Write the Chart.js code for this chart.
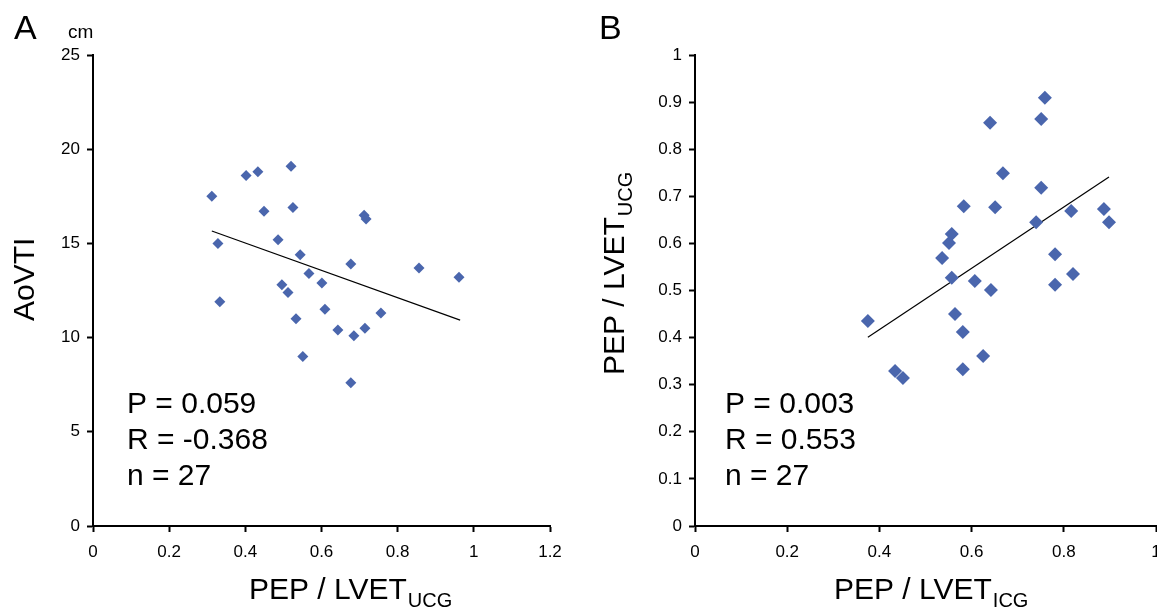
<!DOCTYPE html>
<html>
<head>
<meta charset="utf-8">
<script src="https://cdn.jsdelivr.net/npm/chart.js@4.4.1/dist/chart.umd.min.js"></script>
<style>
  html, body { margin: 0; padding: 0; background: #fff; overflow: hidden; }
  #wrap { position: relative; width: 1157px; height: 610px; overflow: hidden; }
  canvas { position: absolute; top: 0; }
  #chartA { left: 0; }
  #chartB { left: 578px; }
</style>
</head>
<body>
<div id="wrap">
  <canvas id="chartA" width="578" height="610"></canvas>
  <canvas id="chartB" width="600" height="610"></canvas>
</div>
<script>
// Panel A: PEP/LVET (UCG) vs AoVTI
const aX = [0.312, 0.328, 0.333, 0.402, 0.433, 0.520, 0.449, 0.525, 0.486, 0.544, 0.567, 0.496, 0.512, 0.601,
            0.609, 0.533, 0.551, 0.643, 0.685, 0.714, 0.677, 0.712, 0.717, 0.756, 0.677, 0.856, 0.961];
const aY = [17.5, 15.0, 11.9, 18.6, 18.8, 19.1, 16.7, 16.9, 15.2, 14.4, 13.4, 12.8, 12.4, 12.9,
            11.5, 11.0, 9.0, 10.4, 10.1, 10.5, 13.9, 16.5, 16.3, 11.3, 7.6, 13.7, 13.2];
const aFitX = [0.312, 0.964];
const aFitY = [15.66, 10.93];
const aStats = ['P = 0.059', 'R = -0.368', 'n = 27'];

// Panel B: PEP/LVET (ICG) vs PEP/LVET (UCG)
const bX = [0.375, 0.434, 0.451, 0.536, 0.551, 0.557, 0.557, 0.564, 0.581, 0.581, 0.583, 0.607, 0.625, 0.642,
            0.651, 0.640, 0.668, 0.740, 0.751, 0.751, 0.759, 0.816, 0.781, 0.781, 0.820, 0.887, 0.898];
const bY = [0.435, 0.329, 0.314, 0.569, 0.601, 0.620, 0.527, 0.450, 0.412, 0.333, 0.679, 0.520, 0.361, 0.501,
            0.677, 0.856, 0.749, 0.645, 0.718, 0.864, 0.909, 0.669, 0.512, 0.577, 0.535, 0.673, 0.645];
const bFitX = [0.375, 0.898];
const bFitY = [0.401, 0.741];
const bStats = ['P = 0.003', 'R = 0.553', 'n = 27'];

const FONT = "'Liberation Sans', Arial, sans-serif";
const BLUE = '#4a66ad';

function toPoints(xs, ys) {
    return xs.map((x, i) => ({ x: x, y: ys[i] }));
}

// draw "main" + subscript, optionally rotated (reads bottom to top)
function drawTitle(ctx, x, y, main, sub, rotated) {
    ctx.save();
    ctx.translate(x, y);
    if (rotated) ctx.rotate(-Math.PI / 2);
    ctx.fillStyle = '#000';
    ctx.textAlign = 'left';
    ctx.textBaseline = 'alphabetic';
    ctx.font = '30px ' + FONT;
    ctx.fillText(main, 0, 0);
    if (sub) {
        const w = ctx.measureText(main).width;
        ctx.font = '20px ' + FONT;
        ctx.fillText(sub, w + 1, 8);
    }
    ctx.restore();
}

function textPlugin(cfg) {
    return {
        id: 'texts',
        afterDraw(chart) {
            const ctx = chart.ctx;
            ctx.save();
            ctx.fillStyle = '#000';
            ctx.textBaseline = 'alphabetic';
            ctx.font = '34px ' + FONT;
            ctx.fillText(cfg.panel, cfg.panelX, 39);
            if (cfg.unit) {
                ctx.font = '19px ' + FONT;
                ctx.fillText(cfg.unit, cfg.unitX, 38);
            }
            ctx.font = '30px ' + FONT;
            const lines = [413, 449, 485];
            cfg.stats.forEach((s, i) => ctx.fillText(s, cfg.statsX, lines[i]));
            ctx.restore();
            drawTitle(ctx, cfg.xTitleX, 599, cfg.xTitle, cfg.xSub, false);
            drawTitle(ctx, cfg.yTitleX, cfg.yTitleY, cfg.yTitle, cfg.ySub, true);
        }
    };
}

function axisOpts(min, max, step, fitSize, horizontal) {
    return {
        type: 'linear',
        min: min,
        max: max,
        ticks: {
            stepSize: step,
            color: '#000',
            padding: horizontal ? 10 : 7,
            font: { family: FONT, size: 17 },
            maxRotation: 0,
            callback: v => String(+v.toFixed(2))
        },
        grid: {
            drawOnChartArea: false,
            drawTicks: true,
            tickLength: 6,
            tickColor: '#000',
            tickWidth: 2
        },
        border: { display: true, color: '#000', width: 2 },
        afterFit(scale) {
            if (horizontal) scale.height = fitSize;
            else scale.width = fitSize;
        }
    };
}

function renderChart(canvasId, pts, fit, radius, xs, ys, pad, yWidth, textCfg) {
    const ctx = document.getElementById(canvasId).getContext('2d');
    new Chart(ctx, {
        type: 'scatter',
        data: {
            datasets: [
                {
                    data: pts,
                    pointStyle: 'rectRot',
                    pointRadius: radius,
                    pointBorderWidth: 0,
                    backgroundColor: BLUE,
                    borderColor: BLUE,
                    order: 1
                },
                {
                    type: 'line',
                    data: fit,
                    borderColor: '#000',
                    borderWidth: 1.2,
                    pointRadius: 0,
                    fill: false,
                    order: 2
                }
            ]
        },
        options: {
            responsive: false,
            animation: false,
            devicePixelRatio: 1,
            layout: { padding: pad },
            plugins: { legend: { display: false }, tooltip: { enabled: false } },
            scales: {
                x: axisOpts(xs[0], xs[1], xs[2], 84, true),
                y: axisOpts(ys[0], ys[1], ys[2], yWidth, false)
            }
        },
        plugins: [textPlugin(textCfg)]
    });
}

document.addEventListener('DOMContentLoaded', () => {
    renderChart('chartA', toPoints(aX, aY), toPoints(aFitX, aFitY), 5.5,
        [0, 1.2, 0.2], [0, 25, 5],
        { top: 55, right: 28, left: 0, bottom: 0 }, 93,
        {
            panel: 'A', panelX: 14, unit: 'cm', unitX: 68,
            stats: aStats, statsX: 127,
            xTitle: 'PEP / LVET', xSub: 'UCG', xTitleX: 249,
            yTitle: 'AoVTI', ySub: '', yTitleX: 34, yTitleY: 321
        });

    renderChart('chartB', toPoints(bX, bY), toPoints(bFitX, bFitY), 7,
        [0, 1, 0.2], [0, 1, 0.1],
        { top: 55, right: 22, left: 0, bottom: 0 }, 117,
        {
            panel: 'B', panelX: 21, unit: '', unitX: 0,
            stats: bStats, statsX: 147,
            xTitle: 'PEP / LVET', xSub: 'ICG', xTitleX: 256,
            yTitle: 'PEP / LVET', ySub: 'UCG', yTitleX: 46, yTitleY: 375
        });
});
</script>
</body>
</html>
